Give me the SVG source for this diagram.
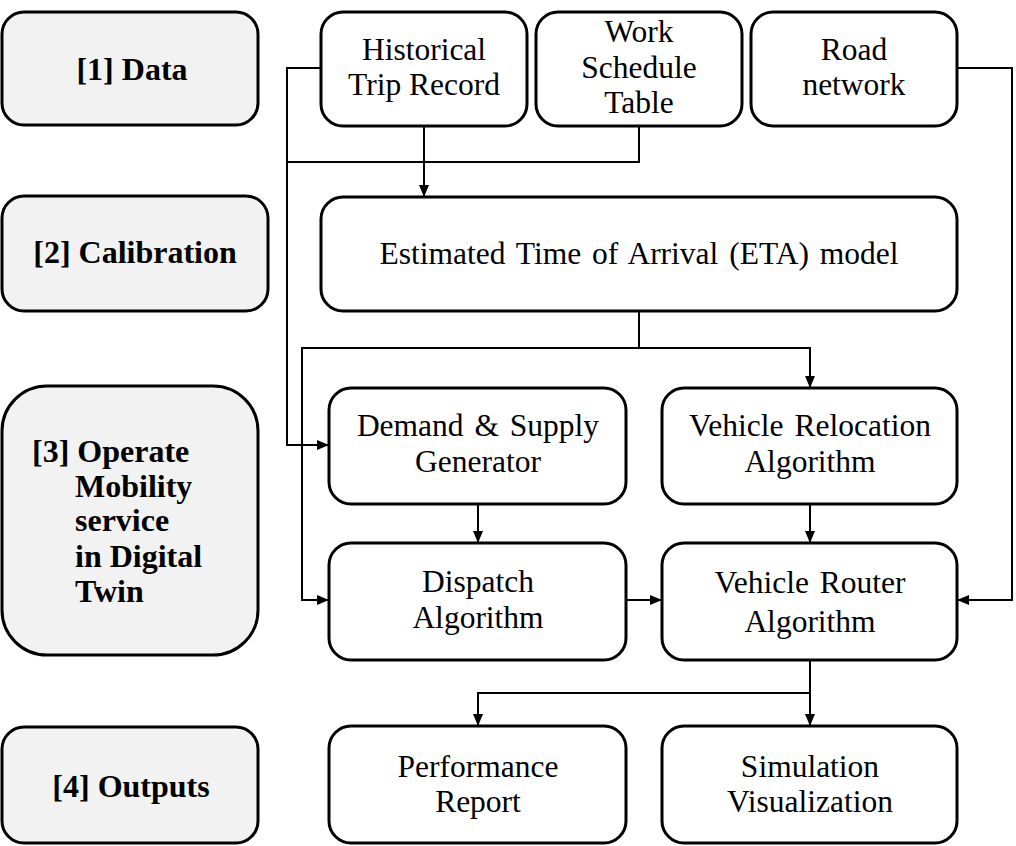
<svg xmlns="http://www.w3.org/2000/svg" width="1016" height="846" viewBox="0 0 1016 846">
<style>
.stage{fill:#f2f2f2;stroke:#000;stroke-width:3}
.box{fill:#fff;stroke:#000;stroke-width:3}
.t{font-family:"Liberation Serif","Times New Roman",serif;font-size:31.5px;fill:#000;text-anchor:middle}
.b{font-family:"Liberation Serif","Times New Roman",serif;font-size:32px;font-weight:bold;fill:#000}
.c{text-anchor:middle}
.ln{fill:none;stroke:#000;stroke-width:2}
</style>
<defs>
<marker id="ah" viewBox="0 0 12 10" refX="12" refY="5" markerWidth="12" markerHeight="10" orient="auto" markerUnits="userSpaceOnUse">
<path d="M0,0 L12,5 L0,10 z" fill="#000"/>
</marker>
</defs>
<rect width="1016" height="846" fill="#fff"/>
<g id="stage1"><rect class="stage" x="2" y="12" width="256" height="113" rx="22"/><text class="b c" x="132" y="80">[1] Data</text></g>
<g id="stage2"><rect class="stage" x="2" y="196" width="266" height="115" rx="22"/><text class="b c" x="135" y="263">[2] Calibration</text></g>
<g id="stage3"><rect class="stage" x="2" y="386" width="256" height="269" rx="45"/>
<text class="b" x="32" y="462">[3] Operate</text>
<text class="b" x="75" y="497">Mobility</text>
<text class="b" x="75" y="531">service</text>
<text class="b" x="75" y="567">in Digital</text>
<text class="b" x="75" y="602">Twin</text></g>
<g id="stage4"><rect class="stage" x="2" y="727" width="256" height="116" rx="22"/><text class="b c" x="131" y="797">[4] Outputs</text></g>

<g id="historical"><rect class="box" x="321" y="12" width="206" height="114" rx="22"/><text class="t" x="424" y="60">Historical</text><text class="t" x="424" y="95">Trip Record</text></g>
<g id="workschedule"><rect class="box" x="536" y="12" width="206" height="114" rx="22"/><text class="t" x="639" y="42">Work</text><text class="t" x="639" y="78">Schedule</text><text class="t" x="639" y="113">Table</text></g>
<g id="road"><rect class="box" x="751" y="12" width="206" height="114" rx="22"/><text class="t" x="854" y="60">Road</text><text class="t" x="854" y="95">network</text></g>
<g id="eta"><rect class="box" x="321" y="197" width="636" height="114" rx="22"/><text class="t" x="639" y="264" word-spacing="3">Estimated Time of Arrival (ETA) model</text></g>
<g id="demand"><rect class="box" x="329" y="388" width="297" height="116" rx="22"/><text class="t" x="478" y="436" word-spacing="3">Demand &amp; Supply</text><text class="t" x="478" y="472">Generator</text></g>
<g id="relocation"><rect class="box" x="662" y="388" width="295" height="116" rx="22"/><text class="t" x="810" y="436" word-spacing="3">Vehicle Relocation</text><text class="t" x="810" y="472">Algorithm</text></g>
<g id="dispatch"><rect class="box" x="329" y="543" width="297" height="117" rx="22"/><text class="t" x="478" y="592">Dispatch</text><text class="t" x="478" y="628">Algorithm</text></g>
<g id="router"><rect class="box" x="662" y="543" width="295" height="117" rx="22"/><text class="t" x="810" y="593" word-spacing="3">Vehicle Router</text><text class="t" x="810" y="632">Algorithm</text></g>
<g id="performance"><rect class="box" x="329" y="726" width="297" height="117" rx="22"/><text class="t" x="478" y="777">Performance</text><text class="t" x="478" y="812">Report</text></g>
<g id="simulation"><rect class="box" x="662" y="726" width="295" height="117" rx="22"/><text class="t" x="810" y="777">Simulation</text><text class="t" x="810" y="812">Visualization</text></g>

<g id="connectors">
<path class="ln" d="M424,126 V197" marker-end="url(#ah)"/>
<path class="ln" d="M639,126 V162 H287"/>
<path class="ln" d="M321,68 H287 V445 H329" marker-end="url(#ah)"/>
<path class="ln" d="M639,311 V348 H810 V388" marker-end="url(#ah)"/>
<path class="ln" d="M639,348 H302 V600 H329" marker-end="url(#ah)"/>
<path class="ln" d="M478,504 V543" marker-end="url(#ah)"/>
<path class="ln" d="M810,504 V543" marker-end="url(#ah)"/>
<path class="ln" d="M626,600 H662" marker-end="url(#ah)"/>
<path class="ln" d="M957,68 H1012 V600 H957" marker-end="url(#ah)"/>
<path class="ln" d="M810,660 V726" marker-end="url(#ah)"/>
<path class="ln" d="M810,693 H478 V726" marker-end="url(#ah)"/>
</g>
</svg>
